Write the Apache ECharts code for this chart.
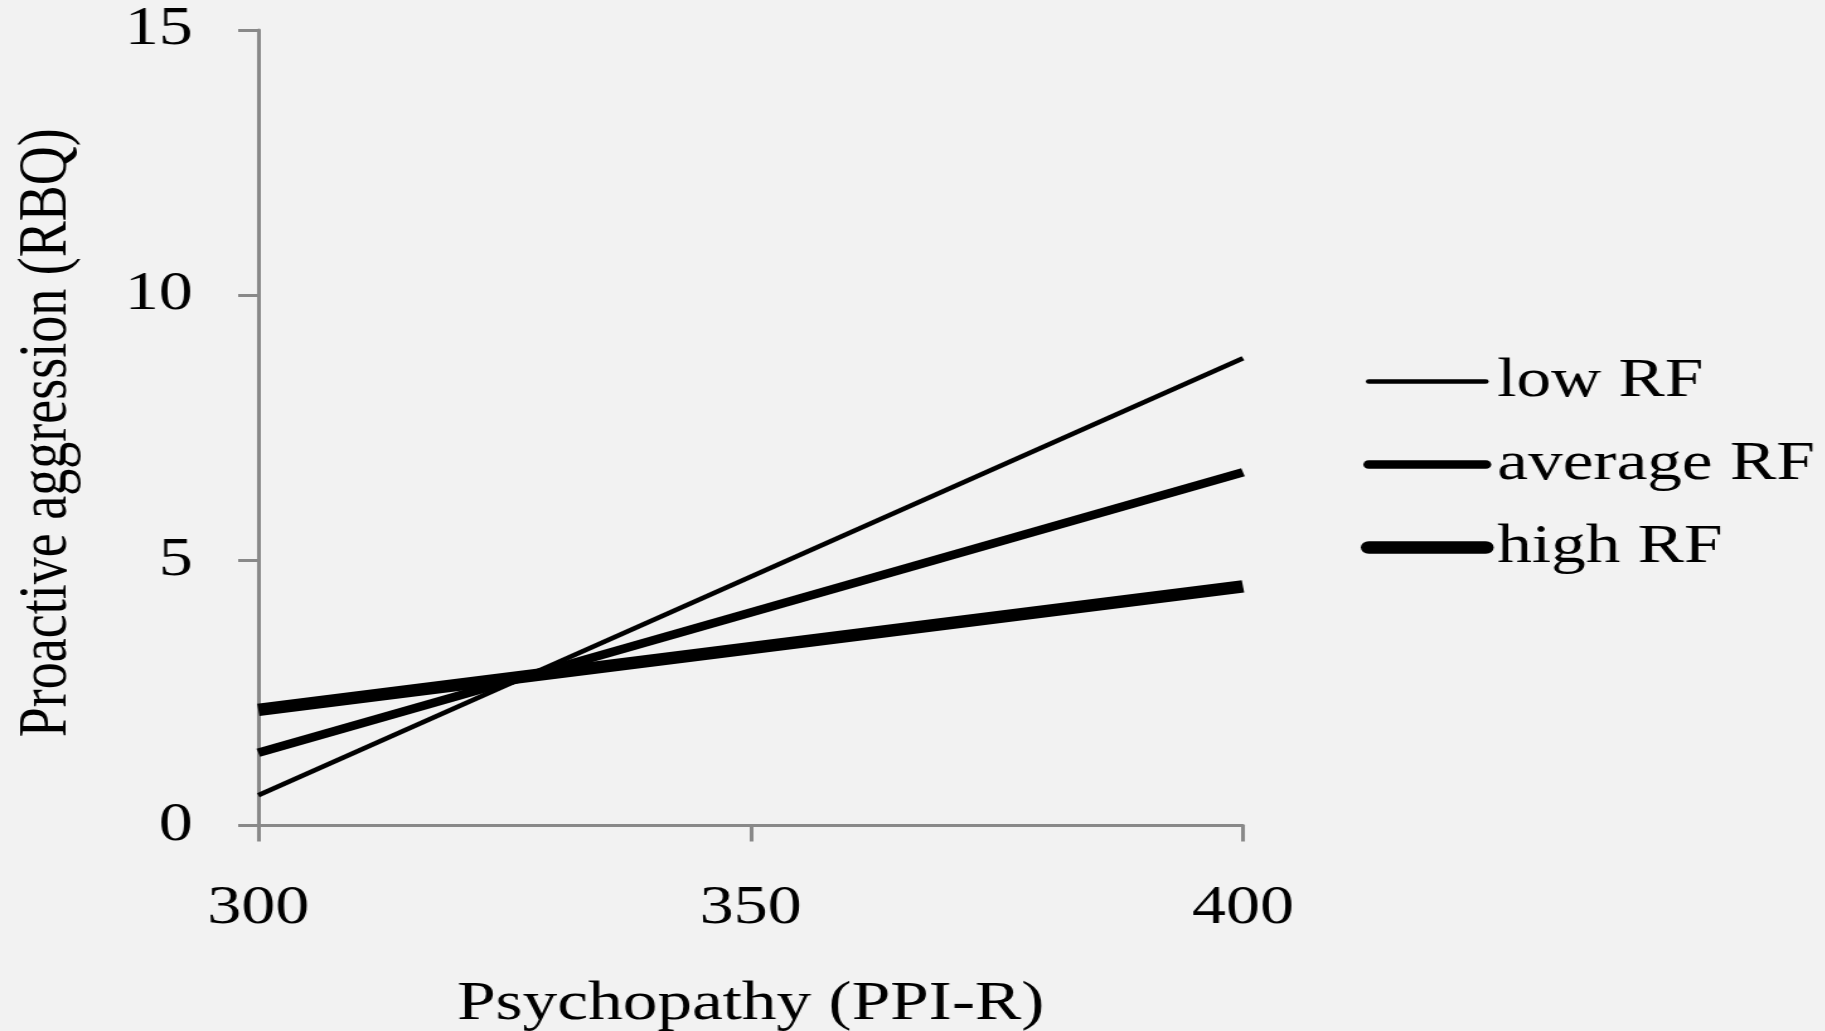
<!DOCTYPE html>
<html>
<head>
<meta charset="utf-8">
<script src="https://cdn.jsdelivr.net/npm/echarts@6/dist/echarts.min.js"></script>
<style>
html,body{margin:0;padding:0;background:#f2f2f2;overflow:hidden;}
#wrap{width:1825px;height:1031px;overflow:hidden;}
#chart{width:1448px;height:1031px;transform:scaleX(1.26);transform-origin:0 0;}
</style>
</head>
<body>
<div id="wrap"><div id="chart"></div></div>
<script>
const psychopathy = [300, 400];
const lowRF = [0.57, 8.81];
const averageRF = [1.37, 6.66];
const highRF = [2.18, 4.51];
const seriesNames = ['low RF', 'average RF', 'high RF'];
const xTicks = [300, 350, 400];
const yTicks = [0, 5, 10, 15];

const FONT = '"Liberation Serif", "Times New Roman", serif';
const chart = echarts.init(document.getElementById('chart'), null, {renderer: 'canvas'});
function pairs(ys) { return psychopathy.map((x, i) => [x, ys[i]]); }
const widths = [4.5, 8.5, 12.5];
const values = [lowRF, averageRF, highRF];
chart.setOption({
  backgroundColor: '#f2f2f2',
  animation: false,
  grid: {left: 205, top: 30, width: 781.5, height: 795.5, containLabel: false, outerBoundsMode: 'none'},
  xAxis: {
    type: 'value', min: xTicks[0], max: xTicks[xTicks.length - 1], interval: 50,
    name: 'Psychopathy (PPI-R)', nameLocation: 'middle', nameGap: 152,
    nameTextStyle: {fontFamily: FONT, fontSize: 55, color: '#000'},
    axisLine: {show: true, lineStyle: {color: '#898989', width: 3}},
    axisTick: {show: true, length: 16, lineStyle: {color: '#898989', width: 3}},
    axisLabel: {fontFamily: FONT, fontSize: 54, color: '#000', margin: 56},
    splitLine: {show: false}
  },
  yAxis: {
    type: 'value', min: yTicks[0], max: yTicks[yTicks.length - 1], interval: 5,
    name: 'Proactive aggression (RBQ)', nameLocation: 'middle', nameGap: 140,
    nameTextStyle: {fontFamily: FONT, fontSize: 54, color: '#000', padding: [0, 10, 0, 0]},
    axisLine: {show: true, lineStyle: {color: '#898989', width: 3}},
    axisTick: {show: true, length: 16, lineStyle: {color: '#898989', width: 3}},
    axisLabel: {fontFamily: FONT, fontSize: 54, color: '#000', margin: 52, padding: [10, 0, 0, 0]},
    splitLine: {show: false}
  },
  legend: {
    orient: 'vertical', left: 1075, top: 349, itemWidth: 93, itemHeight: 14, itemGap: 28,
    data: seriesNames,
    textStyle: {fontFamily: FONT, fontSize: 55, color: '#000', padding: [0, 0, 0, 4]},
    itemStyle: {color: 'transparent', borderWidth: 0, opacity: 0},
    lineStyle: {width: 'inherit', cap: 'round', color: '#000', opacity: 1}
  },
  series: seriesNames.map((n, i) => ({
    name: n, type: 'line', data: pairs(values[i]), showSymbol: false, symbol: 'none',
    lineStyle: {color: '#000', width: widths[i], cap: 'butt'},
    itemStyle: {color: '#000'}
  }))
});
</script>
</body>
</html>
